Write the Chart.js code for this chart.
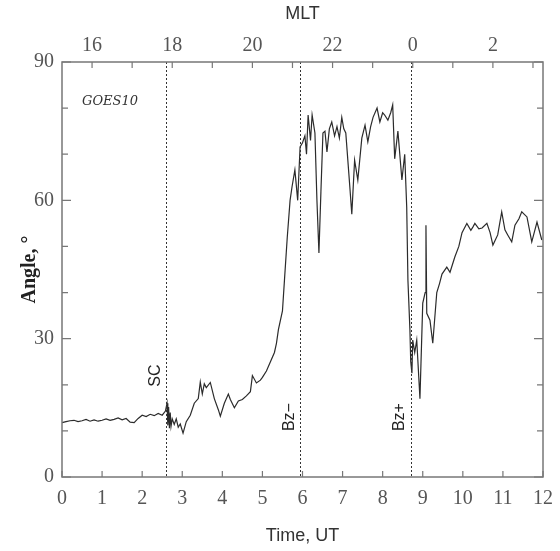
<!DOCTYPE html>
<html>
<head>
<meta charset="utf-8">
<script src="https://cdn.jsdelivr.net/npm/chart.js@4"></script>
<style>
  html, body { margin: 0; padding: 0; background: #fff; }
  #wrap { width: 560px; height: 551px; position: relative; }
</style>
</head>
<body>
<div id="wrap"><canvas id="chart"></canvas></div>
<script>
// time (UT hours) and magnetic field angle (degrees)
const utHours = [
  0, 0.1, 0.2, 0.3, 0.4, 0.5, 0.6, 0.7, 0.8, 0.9,
  1.0, 1.1, 1.2, 1.3, 1.4, 1.5, 1.6, 1.7, 1.8, 1.9,
  2.0, 2.1, 2.2, 2.3, 2.4, 2.5, 2.58, 2.62, 2.64, 2.66,
  2.68, 2.7, 2.72, 2.75, 2.8, 2.85, 2.9, 2.95, 3.02, 3.1,
  3.2, 3.3, 3.4, 3.45, 3.5, 3.55, 3.6, 3.7, 3.8, 3.9,
  3.95, 4.05, 4.15, 4.2, 4.3, 4.4, 4.5, 4.6, 4.7, 4.75,
  4.85, 4.95, 5.0, 5.1, 5.2, 5.3, 5.35, 5.4, 5.5, 5.55,
  5.62, 5.69, 5.74, 5.81, 5.88, 5.94, 6.0, 6.06, 6.1, 6.14,
  6.2, 6.24, 6.31, 6.36, 6.41, 6.46, 6.51, 6.56, 6.61, 6.67,
  6.73, 6.8, 6.86, 6.92, 6.98, 7.03, 7.08, 7.18, 7.23, 7.3,
  7.38, 7.48, 7.56, 7.63, 7.7, 7.76, 7.86, 7.93, 8.0, 8.05,
  8.13, 8.2, 8.25, 8.3, 8.38, 8.48, 8.55, 8.6, 8.63, 8.68,
  8.7, 8.73, 8.75, 8.8, 8.85, 8.93, 9.0, 9.06, 9.08, 9.1,
  9.18, 9.25, 9.35, 9.42, 9.48, 9.6, 9.68, 9.8, 9.9, 9.98,
  10.1, 10.2, 10.25, 10.3, 10.4, 10.48, 10.6, 10.68, 10.75, 10.87,
  10.97, 11.05, 11.12, 11.22, 11.3, 11.4, 11.47, 11.6, 11.72, 11.85,
  11.97
];
const angleDeg = [
  11.8, 12.0, 12.2, 12.3, 12.0, 12.2, 12.5, 12.1, 12.4, 12.1,
  12.3, 12.6, 12.3, 12.5, 12.8, 12.4, 12.7, 11.9, 11.8, 12.7,
  13.4, 13.1, 13.6, 13.3, 13.8, 13.4, 14.3, 16.0, 11.2, 15.2,
  10.6, 14.0, 11.0, 12.6, 11.4, 12.6, 10.8, 11.5, 9.5, 12.0,
  13.4, 16.0, 17.0, 20.6, 18.0, 20.2, 19.4, 20.5, 17.0, 14.6,
  13.2, 16.0, 18.0, 16.8, 15.0, 16.5, 16.8, 17.6, 18.5, 22.0,
  20.4, 21.0, 21.6, 23.0, 25.0, 27.0, 29.0, 32.0, 36.0, 42.7,
  52.0, 60.0, 63.0, 66.6, 60.0, 71.6, 72.5, 74.0, 70.0, 78.5,
  73.0, 78.5, 74.6, 60.0, 48.6, 62.0, 74.6, 75.0, 70.5, 75.5,
  77.0, 74.0, 76.0, 73.5, 78.0, 75.5, 74.6, 63.0, 57.0, 68.7,
  64.4, 73.5, 76.3, 72.7, 76.0, 78.0, 80.0, 77.0, 79.0, 78.5,
  77.4, 79.0, 80.7, 69.0, 75.0, 64.4, 70.0, 58.5, 42.7, 31.9,
  25.0, 22.5, 29.7, 27.0, 29.7, 17.0, 37.7, 40.0, 54.6, 35.5,
  34.0, 29.0, 40.0, 42.0, 44.0, 45.5, 44.4, 47.7, 50.0, 53.0,
  55.0, 53.5, 54.2, 55.0, 53.8, 54.0, 55.0, 53.0, 50.3, 52.5,
  57.5, 53.6, 52.5, 51.0, 54.6, 56.0, 57.5, 56.4, 51.0, 55.3,
  51.4
];

// event markers (UT) and their labels
const eventTimes = [2.6, 5.95, 8.7];
const eventLabels = ['SC', 'Bz\u2212', 'Bz+'];

const xTicks = [0, 1, 2, 3, 4, 5, 6, 7, 8, 9, 10, 11, 12];
const yTicks = [0, 10, 20, 30, 40, 50, 60, 70, 80, 90];
const mltTicks = [16, 17, 18, 19, 20, 21, 22, 23, 24, 25, 26, 27];
const mltOffset = 15.25; // MLT = UT + offset

const frameColor = '#777';
const textColor = '#555';

const framePlugin = {
  id: 'frame',
  afterDatasetsDraw(chart) {
    const { ctx, chartArea: a, scales } = chart;
    const x = scales.x, y = scales.y, top = scales.mlt;
    ctx.save();

    // event lines
    ctx.strokeStyle = '#333';
    ctx.lineWidth = 1;
    ctx.setLineDash([2, 2]);
    eventTimes.forEach(t => {
      const px = Math.round(x.getPixelForValue(t)) + 0.5;
      ctx.beginPath();
      ctx.moveTo(px, a.top);
      ctx.lineTo(px, a.bottom);
      ctx.stroke();
    });
    ctx.setLineDash([]);

    // frame
    ctx.strokeStyle = frameColor;
    ctx.lineWidth = 1.5;
    ctx.strokeRect(a.left, a.top, a.right - a.left, a.bottom - a.top);

    // inward ticks
    ctx.lineWidth = 1.2;
    ctx.beginPath();
    xTicks.forEach(v => {
      const px = x.getPixelForValue(v);
      ctx.moveTo(px, a.bottom);
      ctx.lineTo(px, a.bottom - 6);
    });
    mltTicks.forEach(v => {
      const px = top.getPixelForValue(v);
      ctx.moveTo(px, a.top);
      ctx.lineTo(px, a.top + 6);
    });
    yTicks.forEach(v => {
      const py = y.getPixelForValue(v);
      const len = v % 30 === 0 ? 9 : 6;
      ctx.moveTo(a.left, py);
      ctx.lineTo(a.left + len, py);
      ctx.moveTo(a.right, py);
      ctx.lineTo(a.right - len, py);
    });
    ctx.stroke();

    // event labels, rotated
    ctx.fillStyle = '#222';
    ctx.font = '16px "Liberation Sans", Arial, sans-serif';
    ctx.textAlign = 'center';
    ctx.textBaseline = 'bottom';
    const labelY = [y.getPixelForValue(22), y.getPixelForValue(13), y.getPixelForValue(13)];
    eventTimes.forEach((t, i) => {
      const px = x.getPixelForValue(t) - 3;
      ctx.save();
      ctx.translate(px, labelY[i]);
      ctx.rotate(-Math.PI / 2);
      ctx.fillText(eventLabels[i], 0, 0);
      ctx.restore();
    });

    // satellite label
    ctx.font = 'italic 13px "DejaVu Serif", serif';
    ctx.fillStyle = '#333';
    ctx.textAlign = 'left';
    ctx.textBaseline = 'middle';
    ctx.fillText('GOES10', a.left + 20, y.getPixelForValue(81.5));

    ctx.restore();
  }
};

const tickFont = { family: '"Liberation Serif", serif', size: 20 };

new Chart(document.getElementById('chart'), {
  type: 'line',
  data: {
    datasets: [{
      data: utHours.map((t, i) => ({ x: t, y: angleDeg[i] })),
      borderColor: '#2b2b2b',
      borderWidth: 1.2,
      pointRadius: 0,
      tension: 0,
      fill: false
    }]
  },
  options: {
    responsive: true,
    maintainAspectRatio: false,
    animation: false,
    layout: { padding: { left: 0, right: 17, top: 0, bottom: 0 } },
    plugins: {
      legend: { display: false },
      tooltip: { enabled: false }
    },
    scales: {
      x: {
        type: 'linear',
        position: 'bottom',
        min: 0,
        max: 12,
        afterBuildTicks: s => { s.ticks = xTicks.map(v => ({ value: v })); },
        afterFit: s => { s.height = 74; s.paddingRight = 0; s.paddingLeft = 0; },
        grid: { display: false, drawTicks: false },
        border: { display: false },
        ticks: { color: textColor, font: tickFont, padding: 10, maxRotation: 0, autoSkip: false },
        title: {
          display: true,
          text: 'Time, UT',
          color: '#333',
          font: { family: '"Liberation Sans", Arial, sans-serif', size: 18 },
          padding: { top: 8 }
        }
      },
      mlt: {
        type: 'linear',
        position: 'top',
        min: mltOffset,
        max: 12 + mltOffset,
        afterBuildTicks: s => { s.ticks = mltTicks.map(v => ({ value: v })); },
        afterFit: s => { s.height = 62; s.paddingRight = 0; s.paddingLeft = 0; },
        grid: { display: false, drawTicks: false },
        border: { display: false },
        ticks: {
          color: textColor,
          font: tickFont,
          padding: 4,
          maxRotation: 0,
          autoSkip: false,
          callback: v => (v % 2 === 0 ? String(v % 24) : '')
        },
        title: {
          display: true,
          text: 'MLT',
          color: '#333',
          font: { family: '"Liberation Sans", Arial, sans-serif', size: 18 },
          padding: { top: 3, bottom: 2 }
        }
      },
      y: {
        min: 0,
        max: 90,
        afterBuildTicks: s => { s.ticks = yTicks.map(v => ({ value: v })); },
        afterFit: s => { s.width = 62; },
        grid: { display: false, drawTicks: false },
        border: { display: false },
        ticks: {
          color: textColor,
          font: tickFont,
          padding: 8,
          autoSkip: false,
          callback: v => (v % 30 === 0 ? String(v) : '')
        },
        title: {
          display: true,
          text: 'Angle, \u00b0',
          color: '#222',
          font: { family: '"Liberation Serif", serif', size: 20, weight: 'bold' },
          padding: { top: 18, bottom: 4 }
        }
      }
    }
  },
  plugins: [framePlugin]
});
</script>
</body>
</html>
